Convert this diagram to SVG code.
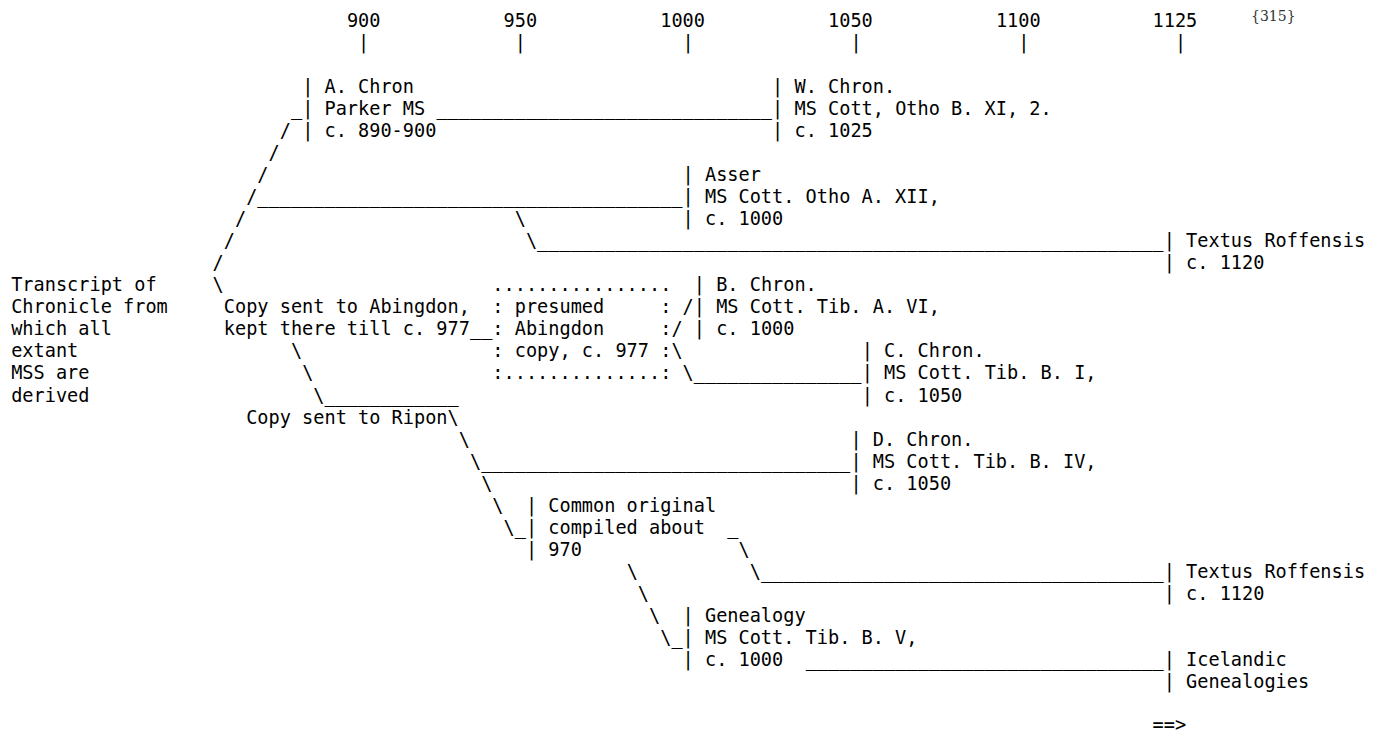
<svg xmlns="http://www.w3.org/2000/svg" width="1374" height="733" viewBox="0 0 1374 733" xml:space="preserve">
<style>
text{font-family:"DejaVu Sans Mono","Liberation Mono",monospace;font-size:18.59px;fill:#000;white-space:pre}
text.pg{font-family:"DejaVu Serif","Liberation Serif",serif;font-size:14px;fill:#333}
</style>
<rect width="1374" height="733" fill="#fff"/>
<g id="page-number"><text class="pg" x="1251" y="20.7">{315}</text></g>
<g id="timeline">
<text x="346.89" y="26.6">900</text>
<text x="503.55" y="26.6">950</text>
<text x="660.21" y="26.6">1000</text>
<text x="828.06" y="26.6">1050</text>
<text x="995.91" y="26.6">1100</text>
<text x="1152.57" y="26.6">1125</text>
<text x="358.08" y="48.7">|</text>
<text x="514.74" y="48.7">|</text>
<text x="682.59" y="48.7">|</text>
<text x="850.44" y="48.7">|</text>
<text x="1018.29" y="48.7">|</text>
<text x="1174.95" y="48.7">|</text>
</g>
<g id="connectors">
<text x="290.94" y="114.8">_</text>
<text x="436.41" y="114.8">______________________________</text>
<text x="279.75" y="136.9">/</text>
<text x="268.56" y="158.9">/</text>
<text x="257.37" y="181.0">/</text>
<text x="246.18" y="203.0">/______________________________________</text>
<text x="234.99" y="225.1">/</text>
<text x="514.74" y="225.1">\</text>
<text x="223.8" y="247.1">/</text>
<text x="525.93" y="247.1">\________________________________________________________</text>
<text x="212.61" y="269.2">/</text>
<text x="212.61" y="291.2">\</text>
<text x="682.59" y="313.3">/</text>
<text x="469.98" y="335.3">__</text>
<text x="671.4" y="335.3">/</text>
<text x="290.94" y="357.4">\</text>
<text x="671.4" y="357.4">\</text>
<text x="302.13" y="379.4">\</text>
<text x="682.59" y="379.4">\_______________</text>
<text x="313.32" y="401.5">\____________</text>
<text x="447.6" y="423.5">\</text>
<text x="458.79" y="445.6">\</text>
<text x="469.98" y="467.6">\_________________________________</text>
<text x="481.17" y="489.7">\</text>
<text x="492.36" y="511.7">\</text>
<text x="503.55" y="533.8">\_</text>
<text x="727.35" y="533.8">_</text>
<text x="738.54" y="555.8">\</text>
<text x="626.64" y="577.9">\</text>
<text x="749.73" y="577.9">\____________________________________</text>
<text x="637.83" y="599.9">\</text>
<text x="649.02" y="622.0">\</text>
<text x="660.21" y="644.0">\_</text>
<text x="805.68" y="666.1">________________________________</text>
</g>
<g id="a-chron">
<text x="302.13" y="92.8">| A. Chron</text>
<text x="302.13" y="114.8">| Parker MS</text>
<text x="302.13" y="136.9">| c. 890-900</text>
</g>
<g id="w-chron">
<text x="772.11" y="92.8">| W. Chron.</text>
<text x="772.11" y="114.8">| MS Cott, Otho B. XI, 2.</text>
<text x="772.11" y="136.9">| c. 1025</text>
</g>
<g id="asser">
<text x="682.59" y="181.0">| Asser</text>
<text x="682.59" y="203.0">| MS Cott. Otho A. XII,</text>
<text x="682.59" y="225.1">| c. 1000</text>
</g>
<g id="textus-roffensis-1">
<text x="1163.76" y="247.1">| Textus Roffensis</text>
<text x="1163.76" y="269.2">| c. 1120</text>
</g>
<g id="transcript">
<text x="11.19" y="291.2">Transcript of</text>
<text x="11.19" y="313.3">Chronicle from</text>
<text x="11.19" y="335.3">which all</text>
<text x="11.19" y="357.4">extant</text>
<text x="11.19" y="379.4">MSS are</text>
<text x="11.19" y="401.5">derived</text>
</g>
<g id="abingdon-copy">
<text x="223.8" y="313.3">Copy sent to Abingdon,</text>
<text x="223.8" y="335.3">kept there till c. 977</text>
</g>
<g id="presumed-abingdon-copy">
<text x="492.36" y="291.2">................</text>
<text x="492.36" y="313.3">: presumed     :</text>
<text x="492.36" y="335.3">: Abingdon     :</text>
<text x="492.36" y="357.4">: copy, c. 977 :</text>
<text x="492.36" y="379.4">:..............:</text>
</g>
<g id="b-chron">
<text x="693.78" y="291.2">| B. Chron.</text>
<text x="693.78" y="313.3">| MS Cott. Tib. A. VI,</text>
<text x="693.78" y="335.3">| c. 1000</text>
</g>
<g id="c-chron">
<text x="861.63" y="357.4">| C. Chron.</text>
<text x="861.63" y="379.4">| MS Cott. Tib. B. I,</text>
<text x="861.63" y="401.5">| c. 1050</text>
</g>
<g id="ripon-copy">
<text x="246.18" y="423.5">Copy sent to Ripon</text>
</g>
<g id="d-chron">
<text x="850.44" y="445.6">| D. Chron.</text>
<text x="850.44" y="467.6">| MS Cott. Tib. B. IV,</text>
<text x="850.44" y="489.7">| c. 1050</text>
</g>
<g id="common-original">
<text x="525.93" y="511.7">| Common original</text>
<text x="525.93" y="533.8">| compiled about</text>
<text x="525.93" y="555.8">| 970</text>
</g>
<g id="textus-roffensis-2">
<text x="1163.76" y="577.9">| Textus Roffensis</text>
<text x="1163.76" y="599.9">| c. 1120</text>
</g>
<g id="genealogy">
<text x="682.59" y="622.0">| Genealogy</text>
<text x="682.59" y="644.0">| MS Cott. Tib. B. V,</text>
<text x="682.59" y="666.1">| c. 1000</text>
</g>
<g id="icelandic-genealogies">
<text x="1163.76" y="666.1">| Icelandic</text>
<text x="1163.76" y="688.1">| Genealogies</text>
</g>
<g id="continued">
<text x="1152.57" y="730.5">==&gt;</text>
</g>
</svg>
